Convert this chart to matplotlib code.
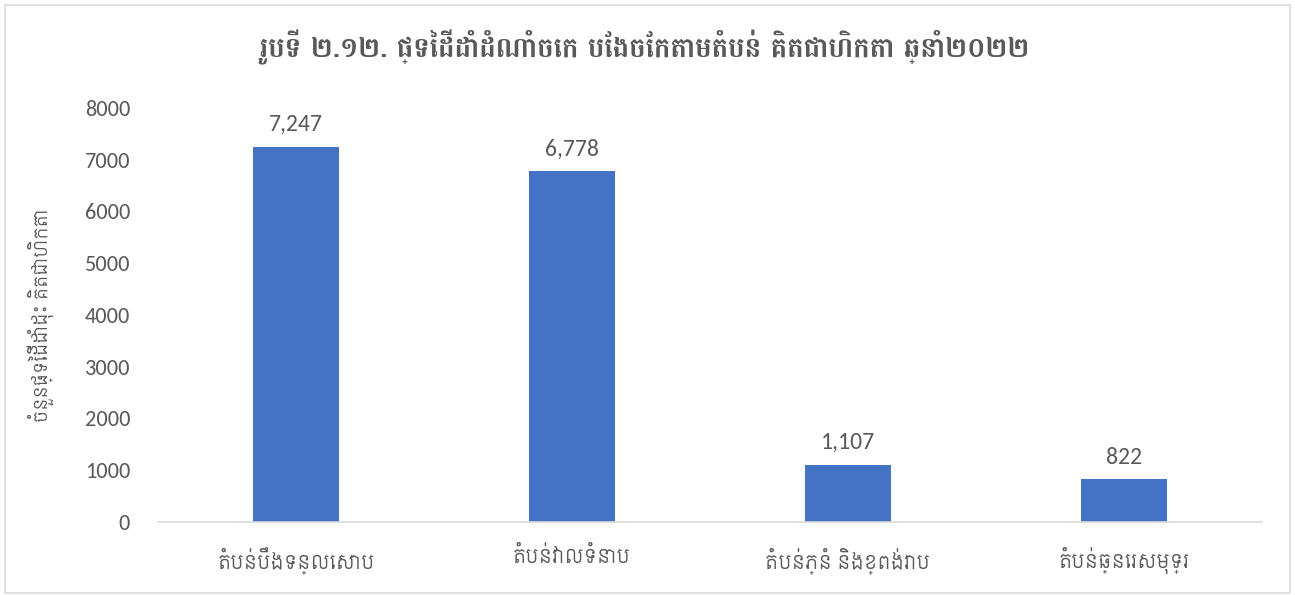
import matplotlib
matplotlib.use("Agg")
import matplotlib.pyplot as plt
from matplotlib.patches import Rectangle

# data
regions = ["តំបន់បឹងទន្លេសាប", "តំបន់វាលទំនាប", "តំបន់ភ្នំ និងខ្ពង់រាប", "តំបន់ឆ្នេរសមុទ្រ"]
area_ha = [7247, 6778, 1107, 822]
yticks = [0, 1000, 2000, 3000, 4000, 5000, 6000, 7000, 8000]
title = "រូបទី ២.១២. ផ្ទៃដីដាំដំណាំចេក បែងចែកតាមតំបន់ គិតជាហិកតា ឆ្នាំ២០២២"
ylabel = "ចំនួនផ្ទៃដីដាំដុះ គិតជាហិកតា"

khmer = ["Siemreap", "Noto Sans Khmer", "DejaVu Sans"]
latin = ["Carlito", "Open Sans", "DejaVu Sans"]
grey = "#595959"

fig = plt.figure(figsize=(12.95, 5.95), dpi=100)
ax = fig.add_axes([0.122, 0.1227, 0.8525, 0.6958])

x = list(range(len(regions)))
bars = ax.bar(x, area_ha, width=0.31, color="#4472C4", zorder=2)

for b, v in zip(bars, area_ha):
    ax.text(b.get_x() + b.get_width() / 2, v + 230, f"{v:,}", ha="center", va="bottom",
            fontsize=17, color=grey, family=latin)

ax.set_xlim(-0.5, len(regions) - 0.5)
ax.set_ylim(0, 8000)
ax.set_yticks(yticks)
ax.set_yticklabels([str(t) for t in yticks], family=latin, fontsize=16, color=grey)
ax.set_xticks(x)
ax.set_xticklabels(regions, family=khmer, fontsize=14, color=grey)
ax.tick_params(axis="y", length=0, pad=20)
ax.tick_params(axis="x", length=0, pad=18)

for s in ["top", "right", "left"]:
    ax.spines[s].set_visible(False)
ax.spines["bottom"].set_color("#D9D9D9")
ax.spines["bottom"].set_linewidth(1.2)

ax.set_ylabel(ylabel, family=khmer, fontsize=13, color=grey, labelpad=22)
fig.text(0.498, 0.92, title, ha="center", va="center", family=["Battambang", "Noto Sans Khmer", "DejaVu Sans"],
         fontsize=20, fontweight="bold", color=grey)

fig.patches.append(Rectangle((0.004, 0.004), 0.992, 0.988, transform=fig.transFigure,
                             fill=False, edgecolor="#D9D9D9", linewidth=1.2))

fig.savefig("out.png", dpi=100)
